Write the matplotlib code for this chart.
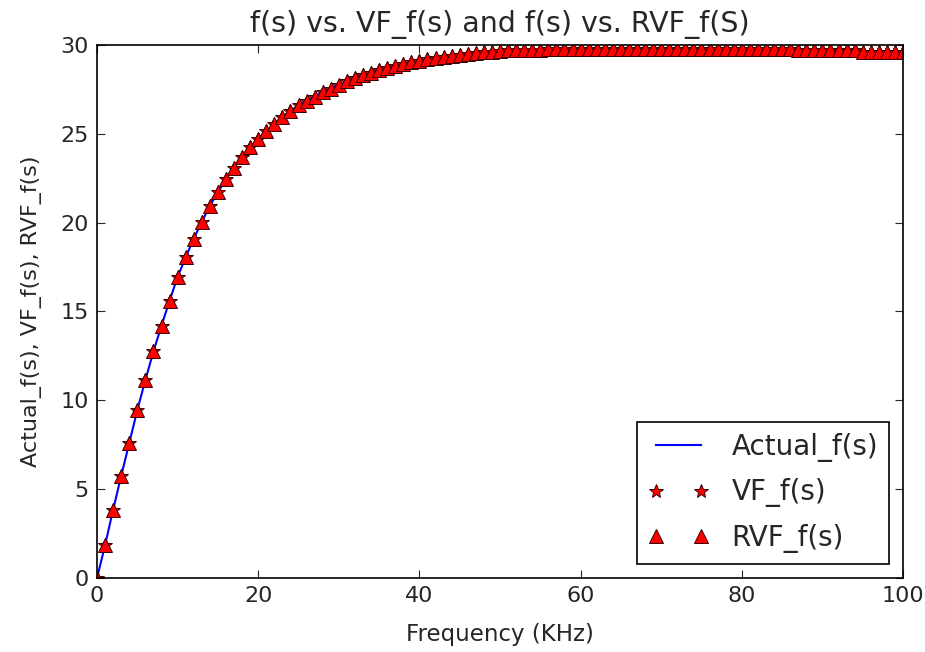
import matplotlib
matplotlib.use("Agg")
import matplotlib.pyplot as plt

# frequency samples (KHz) and magnitudes
freq = list(range(0, 101))
f_actual = [
    0.0, 1.85, 3.85, 5.75, 7.6, 9.45, 11.15, 12.75, 14.2, 15.6,
    16.95, 18.05, 19.1, 20.05, 20.95, 21.7, 22.45, 23.1, 23.7, 24.25,
    24.7, 25.15, 25.55, 25.95, 26.3, 26.6, 26.85, 27.1, 27.35, 27.55,
    27.75, 27.95, 28.15, 28.3, 28.45, 28.6, 28.7, 28.8, 28.95, 29.05,
    29.1, 29.2, 29.25, 29.35, 29.4, 29.45, 29.5, 29.55, 29.6, 29.6,
    29.65, 29.7, 29.7, 29.7, 29.7, 29.7, 29.75, 29.75, 29.75, 29.75,
    29.75, 29.75, 29.75, 29.75, 29.75, 29.75, 29.75, 29.75, 29.75, 29.75,
    29.75, 29.75, 29.75, 29.75, 29.75, 29.75, 29.75, 29.75, 29.75, 29.75,
    29.75, 29.75, 29.75, 29.75, 29.75, 29.75, 29.75, 29.7, 29.7, 29.7,
    29.7, 29.7, 29.7, 29.7, 29.7, 29.6, 29.6, 29.6, 29.6, 29.6,
    29.6,
]
# the fitted curves sit on top of the actual one in the picture
f_vf = f_actual
f_rvf = f_actual

x_ticks = [0, 20, 40, 60, 80, 100]
y_ticks = [0, 5, 10, 15, 20, 25, 30]

plt.rcParams["font.family"] = ["DejaVu Sans"]
txt = "#262626"

fig = plt.figure(figsize=(9.25, 6.52), dpi=100)
ax = fig.add_axes([0.1049, 0.1135, 0.8713, 0.8175])

ax.plot(freq, f_actual, color="b", lw=1.5, label="Actual_f(s)")
ax.plot(freq, f_vf, "r*", ms=10, mec="#3a0000", mew=0.7, label="VF_f(s)")
ax.plot(freq, f_rvf, "r^", ms=9.5, mec="#3a0000", mew=0.7, label="RVF_f(s)")

ax.set_xlim(0, 100)
ax.set_ylim(0, 30)
ax.set_xticks(x_ticks)
ax.set_yticks(y_ticks)
ax.tick_params(direction="in", length=6, width=0.8, top=True, right=True,
               labelsize=16, pad=6, colors=txt)
for s in ax.spines.values():
    s.set_linewidth(1.2)

ax.set_xlabel("Frequency (KHz)", fontsize=16.5, color=txt, labelpad=12)
ax.set_ylabel("Actual_f(s), VF_f(s), RVF_f(s)", fontsize=16, color=txt, labelpad=13)
ax.set_title("f(s) vs. VF_f(s) and f(s) vs. RVF_f(S)", fontsize=20.5, color=txt, pad=9)

leg = ax.legend(loc="lower right", numpoints=2, fontsize=20, fancybox=False,
                framealpha=1, edgecolor="black", borderaxespad=0.5,
                handlelength=2.2, handletextpad=0.8, labelspacing=0.6,
                borderpad=0.4)
leg.get_frame().set_linewidth(1.2)
for t in leg.get_texts():
    t.set_color(txt)

fig.savefig("out.png", dpi=100)
